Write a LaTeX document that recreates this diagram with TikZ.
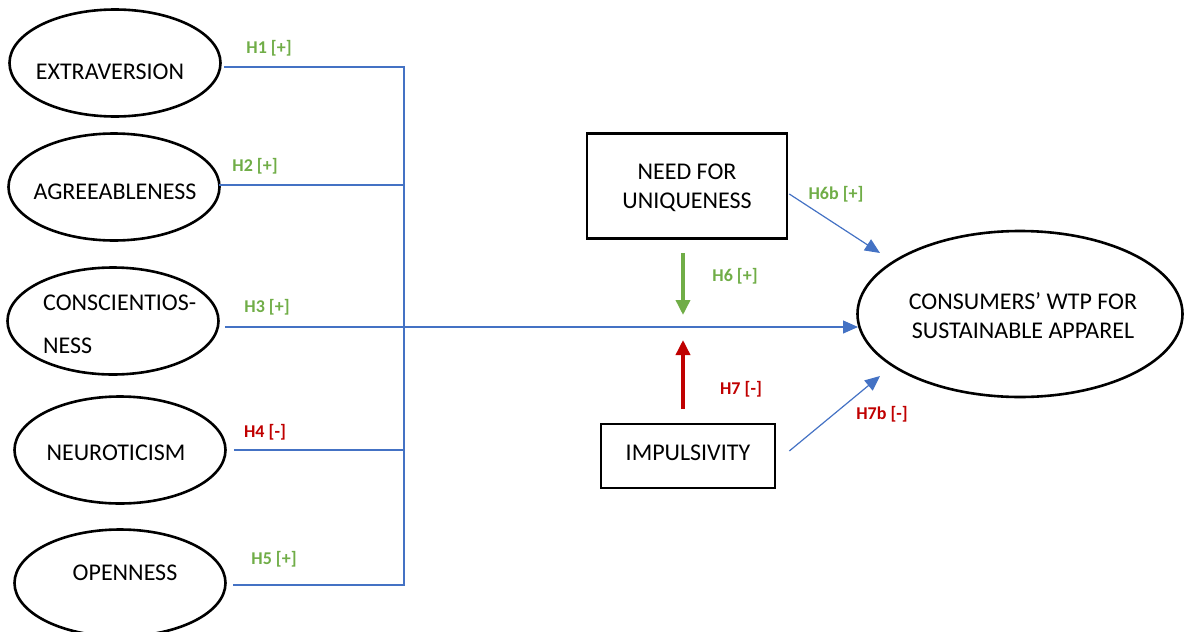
\documentclass[tikz,border=0pt]{standalone}
\usepackage{fontspec}
\setmainfont{Carlito}
\usetikzlibrary{arrows.meta,calc,shapes.geometric}
\definecolor{lnblue}{HTML}{4472C4}
\definecolor{hgreen}{HTML}{70AD47}
\definecolor{hred}{HTML}{C00000}
\tikzset{
  trait/.style={ellipse, draw=black, line width=2.6pt, minimum width=211pt, minimum height=107pt, inner sep=0pt},
  txt/.style={font=\fontsize{24}{29}\selectfont, inner sep=0pt, align=center},
  boxnode/.style={rectangle, draw=black, line width=2.6pt, inner sep=0pt},
  link/.style={draw=lnblue, line width=1.2pt},
  linkarrow/.style={link, -{Triangle[length=15pt,width=13pt]}},
  hyp/.style={font=\fontsize{18}{22}\selectfont\bfseries, inner sep=0pt},
  modarrow/.style={line width=3.5pt, -{Triangle[length=15pt,width=14pt]}},
}
\begin{document}
\begin{tikzpicture}[x=1pt,y=-1pt]
\useasboundingbox (0,0) rectangle (1184,632);
% trait ellipses
\node[trait] (ext) at (115,63) {};
\node[txt] (extT) at (110,72) {EXTRAVERSION};
\node[trait] (agr) at (114,187) {};
\node[txt] (agrT) at (115,192) {AGREEABLENESS};
\node[trait] (con) at (113,321) {};
\node[txt, anchor=west] (conA) at (43,303) {CONSCIENTIOS-};
\node[txt, anchor=west] (conB) at (43,346) {NESS};
\node[trait] (neu) at (120,450) {};
\node[txt] (neuT) at (116,453) {NEUROTICISM};
\node[trait] (ope) at (120,583) {};
\node[txt] (opeT) at (125,573) {OPENNESS};
% bus
\coordinate (busTop) at (404,67);
\coordinate (busBot) at (404,585);
\coordinate (agrJ) at (404,185);
\coordinate (neuJ) at (404,450);
\draw[link] ($(ext.east)+(2,4)$) -- (busTop) -- (busBot) -- ($(ope.east)+(6,2)$);
\draw[link] ($(agr.east)+(-2,-2)$) -- (agrJ);
\draw[link] ($(neu.east)+(7,0)$) -- (neuJ);
% boxes
\node[boxnode, minimum width=200pt, minimum height=105pt] (nfu) at (687,186) {};
\node[txt] (nfuT) at (687,188) {NEED FOR\\UNIQUENESS};
\node[boxnode, minimum width=174pt, minimum height=64pt] (imp) at (688,456) {};
\node[txt] (impT) at (688,453) {IMPULSIVITY};
% outcome
\node[ellipse, draw=black, line width=2.6pt, minimum width=325pt, minimum height=166pt, inner sep=0pt] (wtp) at (1020,314) {};
\node[txt] (wtpT) at (1023,316) {CONSUMERS’ WTP FOR\\SUSTAINABLE APPAREL};
% main arrow
\coordinate (mod) at (683,327);
\coordinate (gStart) at (683,253);
\coordinate (rStart) at (683,409);
\draw[linkarrow] ($(con.east)+(5,6)$) -- ($(wtp.center)+(-162,13)$);
% direct arrows
\draw[linkarrow] ($(nfu.east)+(1,8)$) -- ($(wtp.center)+(-140,-61)$);
\draw[linkarrow] ($(imp.east)+(13,-5)$) -- ($(wtp.center)+(-140,62)$);
% moderator arrows
\draw[modarrow, draw=hgreen, fill=hgreen] (gStart) -- ($(mod)+(0,-12)$);
\draw[modarrow, draw=hred, fill=hred] (rStart) -- ($(mod)+(0,13)$);
% hypothesis labels
\node[hyp, text=hgreen] (h1) at (269,48) {H1 [+]};
\node[hyp, text=hgreen] (h2) at (255,166) {H2 [+]};
\node[hyp, text=hgreen] (h3) at (267,307) {H3 [+]};
\node[hyp, text=hred] (h4) at (265,432) {H4 [-]};
\node[hyp, text=hgreen] (h5) at (274,559) {H5 [+]};
\node[hyp, text=hgreen] (h6) at (735,276) {H6 [+]};
\node[hyp, text=hred] (h7) at (741,389) {H7 [-]};
\node[hyp, text=hgreen] (h6b) at (836,194) {H6b [+]};
\node[hyp, text=hred] (h7b) at (882,414) {H7b [-]};
\end{tikzpicture}
\end{document}
